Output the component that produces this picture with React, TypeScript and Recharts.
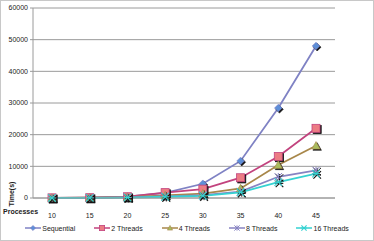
import React from 'react';
import { LineChart, Line, XAxis, YAxis, CartesianGrid, Legend } from 'recharts';

const processes = [10, 15, 20, 25, 30, 35, 40, 45];
const sequential = [50, 100, 400, 1600, 4500, 11700, 28400, 48000];
const threads2 = [50, 100, 400, 1700, 2800, 6400, 13100, 22000];
const threads4 = [30, 80, 300, 800, 1400, 3000, 10400, 16500];
const threads8 = [20, 60, 200, 500, 900, 2000, 6700, 8700];
const threads16 = [20, 50, 150, 400, 700, 1800, 5000, 7700];
const yTicks = [0, 10000, 20000, 30000, 40000, 50000, 60000];

const data = processes.map((p, i) => ({
  x: p,
  seq: sequential[i],
  t2: threads2[i],
  t4: threads4[i],
  t8: threads8[i],
  t16: threads16[i],
}));

type MarkerKind = 'diamond' | 'square' | 'triangle' | 'star' | 'asterisk';

const seriesDefs: { key: string; name: string; line: string; fill: string; marker: MarkerKind }[] = [
  { key: 'seq', name: 'Sequential', line: '#7F82C4', fill: '#5E8FD8', marker: 'diamond' },
  { key: 't2', name: '2 Threads', line: '#C2437E', fill: '#EC7C84', marker: 'square' },
  { key: 't4', name: '4 Threads', line: '#A8874A', fill: '#A9BC5E', marker: 'triangle' },
  { key: 't8', name: '8 Threads', line: '#8783C2', fill: '#8783C2', marker: 'star' },
  { key: 't16', name: '16 Threads', line: '#35D2D2', fill: '#35D2D2', marker: 'asterisk' },
];

function markerShape(kind: MarkerKind, cx: number, cy: number, fill: string, stroke: string, s: number, shadow: boolean) {
  const parts: React.ReactNode[] = [];
  const draw = (x: number, y: number, f: string, st: string, k: string) => {
    if (kind === 'diamond') {
      return <path key={k} d={`M${x},${y - s} L${x + s},${y} L${x},${y + s} L${x - s},${y} Z`} fill={f} stroke={st} strokeWidth={0.6} />;
    }
    if (kind === 'square') {
      return <rect key={k} x={x - s} y={y - s} width={2 * s} height={2 * s} fill={f} stroke={st} strokeWidth={0.8} />;
    }
    if (kind === 'triangle') {
      return <path key={k} d={`M${x},${y - s} L${x + s},${y + s * 0.8} L${x - s},${y + s * 0.8} Z`} fill={f} stroke={st} strokeWidth={0.6} />;
    }
    if (kind === 'star') {
      return (
        <g key={k} stroke={st} strokeWidth={1}>
          <line x1={x - s} y1={y - s} x2={x + s} y2={y + s} />
          <line x1={x - s} y1={y + s} x2={x + s} y2={y - s} />
          <line x1={x} y1={y - s} x2={x} y2={y + s} />
        </g>
      );
    }
    return (
      <g key={k} stroke={st} strokeWidth={1.1}>
        <line x1={x - s} y1={y - s} x2={x + s} y2={y + s} />
        <line x1={x - s} y1={y + s} x2={x + s} y2={y - s} />
        <line x1={x - s} y1={y} x2={x + s} y2={y} />
      </g>
    );
  };
  if (shadow) parts.push(draw(cx + 1.2, cy + 1.2, '#111', '#111', 'sh'));
  parts.push(draw(cx, cy, fill, stroke, 'mk'));
  return parts;
}

const makeDot = (def: (typeof seriesDefs)[number]) => (props: any) => {
  const { cx, cy, index } = props;
  if (cx == null || cy == null) return <g key={`d-${def.key}-${index}`} />;
  const s = def.marker === 'square' ? 4 : def.marker === 'triangle' ? 4.2 : 3.8;
  return (
    <g key={`d-${def.key}-${index}`}>
      {markerShape(def.marker, cx, cy, def.fill, def.line, s, true)}
    </g>
  );
};

const LegendContent = () => (
  <div
    style={{
      display: 'flex',
      justifyContent: 'center',
      gap: 19,
      fontFamily: 'Liberation Sans, Arial, sans-serif',
      fontSize: 7,
      color: '#222',
      alignItems: 'center',
      paddingLeft: 0,
    }}
  >
    {seriesDefs.map((d) => (
      <div key={d.key} style={{ display: 'flex', alignItems: 'center' }}>
        <svg width={16} height={8}>
          <line x1={0} y1={4} x2={16} y2={4} stroke={d.line} strokeWidth={1.5} />
          {markerShape(d.marker, 8, 4, d.fill, d.line, 2.6, false)}
        </svg>
        <span style={{ marginLeft: 1 }}>{d.name}</span>
      </div>
    ))}
  </div>
);

export default function App() {
  const font = 'Liberation Sans, Arial, sans-serif';
  return (
    <div
      style={{
        position: 'absolute',
        left: 0,
        top: 0,
        width: 374,
        height: 241,
        background: '#fff',
        boxSizing: 'border-box',
        border: '1px solid #c8c8c8',
      }}
    >
      <div style={{ position: 'absolute', left: -1, top: -1 }}>
        <LineChart width={374} height={241} data={data} margin={{ top: 8, right: 39, left: 0, bottom: 15 }}>
          <CartesianGrid horizontal vertical={false} stroke="#9a9a9a" strokeWidth={1} />
          <XAxis
            dataKey="x"
            padding={{ left: 19, right: 19 }}
            tick={{ fontSize: 7, fill: '#222', fontFamily: font }}
            tickLine={false}
            axisLine={{ stroke: '#9a9a9a' }}
            height={20}
            interval={0}
            tickMargin={9}
          />
          <YAxis
            domain={[0, 60000]}
            ticks={yTicks}
            width={33}
            tick={{ fontSize: 7, fill: '#222', fontFamily: font }}
            tickLine={{ stroke: '#9a9a9a' }}
            tickSize={3}
            axisLine={{ stroke: '#9a9a9a' }}
            interval={0}
          />
          {seriesDefs.map((d) => (
            <Line
              key={d.key}
              type="linear"
              dataKey={d.key}
              name={d.name}
              stroke={d.line}
              strokeWidth={1.8}
              dot={makeDot(d)}
              isAnimationActive={false}
            />
          ))}
          <Legend content={<LegendContent />} wrapperStyle={{ left: 0, top: 224, width: 374 }} />
        </LineChart>
      </div>
      <div
        style={{
          position: 'absolute',
          left: 2,
          top: 207,
          fontFamily: font,
          fontSize: 7,
          fontWeight: 'bold',
          color: '#222',
        }}
      >
        Processes
      </div>
      <div
        style={{
          position: 'absolute',
          left: 10,
          top: 193,
          fontFamily: font,
          fontSize: 7,
          fontWeight: 'bold',
          color: '#222',
          transform: 'translate(-50%, -50%) rotate(-90deg)',
          whiteSpace: 'nowrap',
        }}
      >
        Time(s)
      </div>
    </div>
  );
}
